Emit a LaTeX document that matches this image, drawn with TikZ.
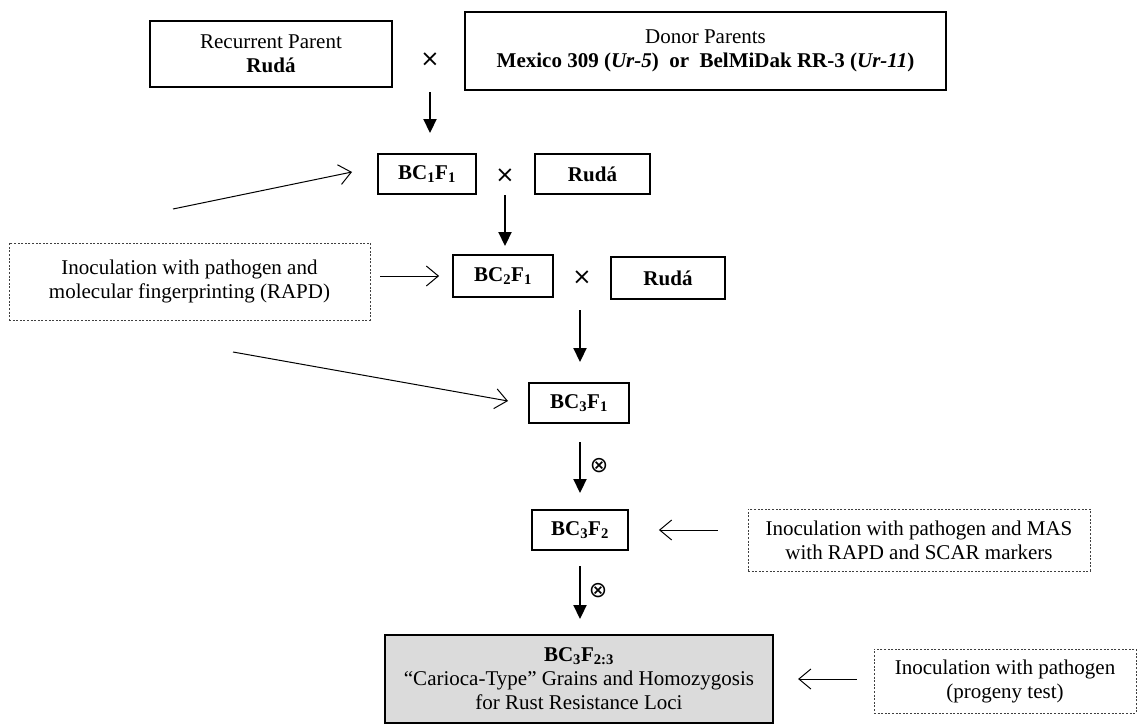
\documentclass[tikz,border=0pt]{standalone}
\usepackage{fontspec}
\setmainfont{Liberation Serif}
\newfontfamily\symfont{DejaVu Sans}
\usetikzlibrary{arrows.meta}
\newcommand{\sbs}[1]{\textsubscript{#1}}
\begin{document}
\begin{tikzpicture}[x=1pt,y=-1pt,
  every node/.style={font=\fontsize{21}{24}\selectfont, align=center, inner sep=0pt},
  solidbox/.style={draw, line width=1.8pt},
  dotbox/.style={draw=black!75, line width=0.9pt, dash pattern=on 2pt off 1.6pt},
  finalbox/.style={draw, line width=2.2pt, fill=black!14},
  crossmark/.style={font=\symfont\fontsize{23}{23}\selectfont},
  selfmark/.style={font=\symfont\fontsize{22}{22}\selectfont},
  downarrow/.style={line width=2.2pt, -{Triangle[length=14pt,width=13pt]}},
  sidearrow/.style={line width=1pt, -{Straight Barb[length=12pt,width=20pt]}}
]
\useasboundingbox (0,0) rectangle (1138,725);

% row 0
\node[solidbox, minimum width=242pt, minimum height=66pt] (rp) at (271,54) {Recurrent Parent\\\textbf{Rudá}};
\node[crossmark] (x0) at (430,60) {×};
\node[solidbox, minimum width=481pt, minimum height=78pt] (donor) at (705.5,51)
  {Donor Parents\\\textbf{Mexico 309 (\textit{Ur-5})\ \ or\ \ BelMiDak RR-3 (\textit{Ur-11})}};

% row 1
\node[solidbox, minimum width=98pt, minimum height=40pt] (bc11) at (427,174) {\textbf{BC\sbs{1}F\sbs{1}}};
\node[crossmark] (x1) at (505,176) {×};
\node[solidbox, minimum width=115pt, minimum height=40pt] (ruda1) at (592.5,174) {\textbf{Rudá}};

% row 2
\node[solidbox, minimum width=100pt, minimum height=42pt] (bc21) at (503,276) {\textbf{BC\sbs{2}F\sbs{1}}};
\node[crossmark] (x2) at (582,278) {×};
\node[solidbox, minimum width=114pt, minimum height=42pt] (ruda2) at (668,278) {\textbf{Rudá}};
\node[dotbox, minimum width=361pt, minimum height=77pt] (dot1) at (189.5,281.5)
  {Inoculation with pathogen and\\molecular fingerprinting (RAPD)};

% row 3
\node[solidbox, minimum width=100pt, minimum height=40pt] (bc31) at (579,403) {\textbf{BC\sbs{3}F\sbs{1}}};
\node[selfmark] (s1) at (599,466) {⊗};

% row 4
\node[solidbox, minimum width=96pt, minimum height=40pt] (bc32) at (580,530) {\textbf{BC\sbs{3}F\sbs{2}}};
\node[dotbox, minimum width=342pt, minimum height=62pt] (dot2) at (919,540)
  {Inoculation with pathogen and MAS\\with RAPD and SCAR markers};
\node[selfmark] (s2) at (598,591) {⊗};

% row 5
\node[finalbox, minimum width=388pt, minimum height=88pt] (final) at (579,679)
  {\textbf{BC\sbs{3}F\sbs{2:3}}\\``Carioca-Type'' Grains and Homozygosis\\for Rust Resistance Loci};
\node[dotbox, minimum width=262pt, minimum height=64pt] (dot3) at (1005,681)
  {Inoculation with pathogen\\(progeny test)};

% coordinates of free arrow ends
\coordinate (a1s) at (430,92);   \coordinate (a1e) at (430,133);
\coordinate (a2s) at (505,195);  \coordinate (a2e) at (505,246);
\coordinate (a3s) at (580,310);  \coordinate (a3e) at (580,362);
\coordinate (a4s) at (580,442);  \coordinate (a4e) at (580,493);
\coordinate (a5s) at (580,566);  \coordinate (a5e) at (580,619);
\coordinate (d1s) at (173,209);  \coordinate (d1e) at (352,172);
\coordinate (d2s) at (233,352);  \coordinate (d2e) at (508,401);

% main flow
\draw[downarrow] (a1s) -- (a1e);
\draw[downarrow] (a2s) -- (a2e);
\draw[downarrow] (a3s) -- (a3e);
\draw[downarrow] (a4s) -- (a4e);
\draw[downarrow] (a5s) -- (a5e);

% selection arrows
\draw[sidearrow] (d1s) -- (d1e);
\draw[sidearrow, shorten <=10pt, shorten >=13pt] (dot1.east |- bc21) -- (bc21.west);
\draw[sidearrow] (d2s) -- (d2e);
\draw[sidearrow, shorten <=30pt, shorten >=30pt] (dot2.west |- bc32) -- (bc32.east);
\draw[sidearrow, shorten <=17pt, shorten >=24pt] (dot3.west |- final) -- (final.east);
\end{tikzpicture}
\end{document}
